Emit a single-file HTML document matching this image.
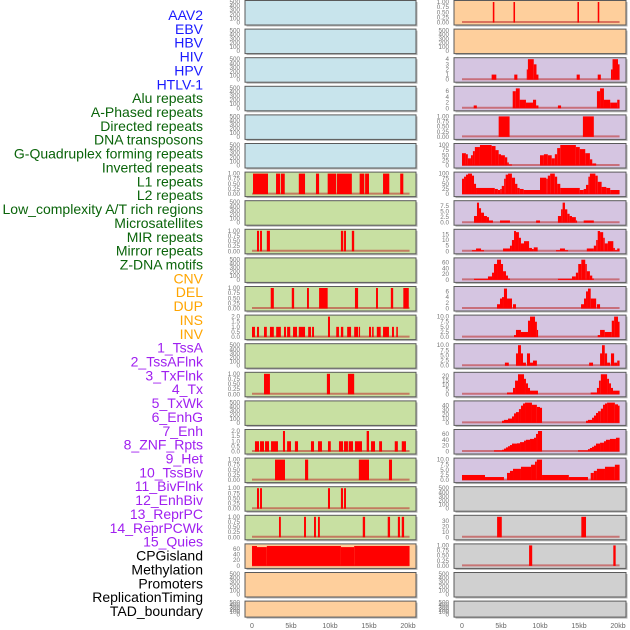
<!DOCTYPE html>
<html><head><meta charset="utf-8"><style>
html,body{margin:0;padding:0;background:#fff;}
svg{display:block;font-family:"Liberation Sans",sans-serif;}
</style></head><body>
<svg id="chart" width="630" height="630" viewBox="0 0 630 630" xmlns="http://www.w3.org/2000/svg"></svg>
<script>
// ---- data ----
const labelNames = ["AAV2","EBV","HBV","HIV","HPV","HTLV-1","Alu repeats","A-Phased repeats","Directed repeats","DNA transposons","G-Quadruplex forming repeats","Inverted repeats","L1 repeats","L2 repeats","Low_complexity A/T rich regions","Microsatellites","MIR repeats","Mirror repeats","Z-DNA motifs","CNV","DEL","DUP","INS","INV","1_TssA","2_TssAFlnk","3_TxFlnk","4_Tx","5_TxWk","6_EnhG","7_Enh","8_ZNF_Rpts","9_Het","10_TssBiv","11_BivFlnk","12_EnhBiv","13_ReprPC","14_ReprPCWk","15_Quies","CPGisland","Methylation","Promoters","ReplicationTiming","TAD_boundary"];
const labelColors = ["#1a1aff","#1a1aff","#1a1aff","#1a1aff","#1a1aff","#1a1aff","#0a640a","#0a640a","#0a640a","#0a640a","#0a640a","#0a640a","#0a640a","#0a640a","#0a640a","#0a640a","#0a640a","#0a640a","#0a640a","#ffa500","#ffa500","#ffa500","#ffa500","#ffa500","#a020f0","#a020f0","#a020f0","#a020f0","#a020f0","#a020f0","#a020f0","#a020f0","#a020f0","#a020f0","#a020f0","#a020f0","#a020f0","#a020f0","#a020f0","#000","#000","#000","#000","#000"];
const xTickKb = [0,5,10,15,20];
const xTickLabels = ["0","5kb","10kb","15kb","20kb"];
const emptyTicks = [0,100,200,300,400,500];
const unitTicks = [0,0.25,0.5,0.75,1];

const segL_Alu = [[0.13,2.05,1],[3.08,3.6,1],[3.7,4.2,1],[6.0,6.8,1],[8.2,8.6,1],[9.7,10.8,1],[10.9,12.8,1],[13.8,14.4,1],[14.5,15.0,1],[16.8,17.6,1],[19.0,19.4,1]];
const segL_Directed = [[0.64,0.9,1],[1.03,1.28,1],[1.9,2.3,1],[11.4,11.7,1],[11.8,12.05,1],[12.8,13.1,1]];
const segL_GQuad = [[2.4,2.8,1],[5.1,5.4,1],[7.05,7.3,1],[8.6,9.7,1],[13.2,13.6,1],[15.9,16.15,1],[17.8,18.1,1],[19.4,20.1,1]];
const segL_Inverted = [[0,0.38,1],[0.64,0.9,1],[1.54,1.9,1],[2.3,2.8,1],[3.1,3.7,1],[4.1,4.36,1],[4.5,4.9,1],[5.26,5.77,1],[6.0,6.8,1],[7.2,7.56,1],[7.7,7.95,1],[9.74,10.0,2],[10.8,11.15,1],[11.4,11.7,1],[12.2,12.7,1],[13.1,13.6,1],[13.7,13.85,1],[15.0,15.26,1],[15.4,15.6,1],[16.0,16.5,1],[16.8,17.56,1],[17.95,18.2,1],[18.5,18.7,1]];
const segL_L2 = [[1.54,2.3,1],[9.6,10.0,1],[12.3,13.1,1]];
const segL_Micro = [[0.38,0.9,1],[1.03,1.54,1],[1.67,2.18,1],[2.44,3.33,1],[3.97,4.23,2],[4.5,5.0,1],[5.5,5.9,1],[7.56,7.95,1],[8.46,8.97,1],[9.74,10.1,1],[11.15,11.67,1],[11.8,12.3,1],[12.4,12.95,1],[13.2,14.1,1],[14.7,15.0,2],[15.26,15.77,1],[16.3,16.67,1],[18.3,18.7,1],[19.2,19.74,1]];
const segL_MIR = [[2.95,4.23,1],[6.8,7.2,1],[13.7,15.0,1],[17.56,17.95,1]];
const segL_Mirror = [[0.64,0.9,1],[1.03,1.28,1],[9.74,10.0,1],[11.4,11.67,1],[11.8,12.05,1]];
const segL_ZDNA = [[3.46,3.7,1],[6.67,6.92,1],[7.95,8.2,1],[8.46,8.7,1],[14.2,14.5,1],[17.4,17.7,1],[18.7,18.97,1],[19.2,19.5,1]];
const segL_CNV = [[0,0.64,70],[0.64,1.9,66],[1.9,11.4,70],[11.4,13.1,66],[13.1,20.2,70]];

const segR_INS = [[3.95,4.15,1],[6.6,6.8,1],[14.8,15.0,1],[17.4,17.6,1]];
const segR_TssA = [[3.8,4.4,1],[6.7,7.1,1],[8.3,8.45,2],[8.45,9.2,4],[9.2,9.55,3],[9.55,9.8,1],[14.7,15.1,1],[17.4,17.8,1],[19.1,19.3,2],[19.3,20.0,4],[20.0,20.2,3]];
const segR_TssAFlnk = [[1.5,1.9,1],[6.5,6.9,6],[6.9,7.4,7],[7.4,8.2,3],[8.2,9.1,2],[9.1,9.5,3],[9.5,9.8,1],[12.3,12.7,1],[17.3,17.7,6],[17.7,18.2,7],[18.2,19.0,3],[19.0,19.9,2],[19.9,20.2,3]];
const segR_TxFlnk = [[4.7,6.1,1],[15.5,16.9,1]];
const segR_Tx = [[0,0.5,60],[0.5,0.75,55],[0.75,1.15,35],[1.15,1.4,50],[1.4,1.65,70],[1.65,2.3,90],[2.3,3.8,100],[3.8,4.3,95],[4.3,4.7,75],[4.7,5.0,55],[5.0,5.5,50],[5.5,5.8,40],[5.8,6.0,15],[6.0,6.4,5],[10.0,10.5,50],[10.5,11.0,55],[11.0,11.5,50],[11.5,11.9,35],[11.9,12.2,55],[12.2,12.6,85],[12.6,14.6,100],[14.6,15.1,90],[15.1,15.8,80],[15.8,16.4,60],[16.4,16.7,30],[16.7,17.2,10]];
const segR_TxWk = [[0,0.26,75],[0.26,0.51,85],[0.51,0.77,95],[0.77,1.28,100],[1.28,1.54,90],[1.54,1.8,50],[1.8,4.2,30],[4.2,4.6,25],[4.6,4.9,20],[4.9,5.1,25],[5.1,5.4,40],[5.4,5.6,75],[5.6,5.9,95],[5.9,6.4,100],[6.4,6.8,80],[6.8,7.1,50],[7.1,7.4,30],[7.4,7.9,25],[7.9,10.0,20],[10.0,10.8,80],[10.8,11.0,75],[11.0,11.3,90],[11.3,11.9,100],[11.9,12.2,85],[12.2,12.6,50],[12.6,15.1,30],[15.1,15.6,20],[15.6,15.9,25],[15.9,16.2,45],[16.2,16.4,85],[16.4,17.1,100],[17.1,17.4,90],[17.4,17.9,60],[17.9,18.5,35],[18.5,19.0,30],[19.0,20.2,20]];
const segR_EnhG = [[1.54,1.92,3],[1.92,2.18,9],[2.18,2.44,6.5],[2.44,2.82,4.5],[2.82,3.2,3],[3.2,3.46,2.5],[3.46,3.97,1],[4.87,6.15,1],[9.5,10.0,1],[12.3,12.7,3],[12.7,12.9,6],[12.9,13.2,9],[13.2,13.5,6],[13.5,13.8,4],[13.8,14.1,3],[14.1,14.6,2.5],[14.6,14.7,1],[15.6,16.9,1]];
const segR_Enh = [[1.28,1.8,1],[1.8,2.44,2.5],[2.44,2.82,1],[5.26,6.15,2.5],[6.15,6.4,5],[6.4,6.67,10],[6.67,6.92,18],[6.92,7.3,17],[7.3,7.56,12],[7.56,7.95,7],[7.95,8.6,9],[8.6,8.97,3],[8.97,9.2,2],[9.2,9.7,3.5],[12.05,12.56,1],[12.56,13.2,2.5],[13.2,13.6,1],[16.0,16.9,2.5],[16.9,17.2,5],[17.2,17.4,10],[17.4,17.7,18],[17.7,18.1,17],[18.1,18.3,12],[18.3,18.7,7],[18.7,19.4,9],[19.4,19.6,3],[19.6,19.9,1],[19.9,20.2,2.5]];
const segR_ZNF = [[1.54,3.33,4],[3.33,3.85,12],[3.85,4.1,25],[4.1,4.49,55],[4.49,5.0,70],[5.0,5.26,55],[5.26,5.64,30],[5.64,5.9,15],[5.9,6.15,5],[12.3,14.1,4],[14.1,14.6,12],[14.6,14.9,25],[14.9,15.3,55],[15.3,15.8,70],[15.8,16.0,55],[16.0,16.4,30],[16.4,16.7,15],[16.7,16.9,5]];
const segR_Het = [[4.49,4.87,1.5],[4.87,5.13,3.5],[5.13,5.38,4],[5.38,5.77,7],[5.77,6.41,3.5],[6.54,6.92,1.5],[15.26,15.64,1.5],[15.64,15.9,3.5],[15.9,16.15,6],[16.15,16.5,7],[16.5,17.2,3.5],[17.3,17.7,1.5]];
const segR_TssBiv = [[6.67,6.92,1],[6.92,7.56,3.5],[7.56,8.46,2.5],[8.46,8.72,8],[8.72,9.36,10],[9.36,9.6,7.5],[9.6,9.74,3.5],[17.4,17.7,1],[17.7,18.3,3.5],[18.3,19.2,2.5],[19.2,19.5,8],[19.5,20.0,10],[20.0,20.2,7.5]];
const segR_BivFlnk = [[5.5,6.0,1.5],[6.92,7.18,6],[7.18,7.56,10],[7.56,7.82,6],[7.82,8.2,1.5],[8.33,8.72,6],[8.72,9.1,1.5],[9.1,9.6,2.5],[16.3,16.8,1.5],[17.7,17.95,6],[17.95,18.3,10],[18.3,18.6,6],[18.6,19.0,1.5],[19.1,19.5,6],[19.5,19.9,1.5],[19.9,20.2,2.5]];
const segR_EnhBiv = [[5.77,6.54,2],[6.54,6.8,7],[6.8,7.18,15],[7.18,7.95,22],[7.95,8.2,17],[8.2,8.46,12],[8.46,8.72,7],[8.72,9.74,4],[16.5,17.3,2],[17.3,17.56,7],[17.56,17.8,15],[17.8,18.6,22],[18.6,18.85,17],[18.85,19.1,12],[19.1,19.36,7],[19.36,20.2,4]];
const segR_ReprPC = [[5.13,5.38,5],[5.38,5.9,7],[5.9,6.41,10],[6.41,6.67,15],[6.67,6.92,22],[6.92,7.3,25],[7.3,7.56,32],[7.56,7.82,40],[7.82,8.08,45],[8.08,8.97,47],[8.97,9.6,42],[9.6,10.0,37],[10.0,10.26,35],[15.9,16.15,5],[16.15,16.67,7],[16.67,16.92,12],[16.92,17.18,17],[17.18,17.44,23],[17.44,17.8,27],[17.8,18.08,33],[18.08,18.33,42],[18.33,18.6,45],[18.6,19.6,47],[19.6,20.0,43],[20.0,20.2,40]];
const segR_ReprPCWk = [[4.1,5.13,4],[5.13,5.38,6],[5.38,5.64,10],[5.64,5.9,14],[5.9,6.15,18],[6.15,6.41,22],[6.41,7.05,27],[7.05,7.44,28],[7.44,7.95,32],[7.95,8.2,37],[8.2,8.72,40],[8.72,9.23,43],[9.23,9.49,47],[9.49,9.74,60],[9.74,10.26,70],[14.87,16.15,4],[16.15,16.4,8],[16.4,16.67,12],[16.67,16.92,16],[16.92,17.18,20],[17.18,17.7,27],[17.7,18.2,30],[18.2,18.46,35],[18.46,18.97,40],[18.97,19.74,43],[19.74,20.2,47]];
const segR_Quies = [[0,2.95,2.5],[2.95,5.38,1.5],[5.77,6.15,3.5],[6.15,6.54,4.5],[6.54,7.56,5.5],[7.56,8.85,6.5],[8.85,9.36,7.5],[9.36,9.6,9],[9.6,10.26,10],[10.26,13.7,2.5],[13.7,16.15,1.5],[16.5,16.9,3.5],[16.9,17.3,4.5],[17.3,18.33,5.5],[18.33,19.6,6.5],[19.6,20.2,7.5]];
const segR_Methyl = [[4.5,5.1,38],[15.3,15.9,38]];
const segR_Prom = [[8.6,9.0,1],[19.4,19.7,1]];

// panel definitions: column, row, background, ylim max, ticks, decimals, segments
const bgBlue="#c8e4ec", bgGreen="#c8e0a2", bgOrange="#fecf9c", bgPurple="#d5c5e1", bgGray="#d0d0d0";
const panels = [
 {n:"aav2",c:0,r:0,bg:bgBlue},{n:"ebv",c:0,r:1,bg:bgBlue},{n:"hbv",c:0,r:2,bg:bgBlue},{n:"hiv",c:0,r:3,bg:bgBlue},{n:"hpv",c:0,r:4,bg:bgBlue},{n:"htlv-1",c:0,r:5,bg:bgBlue},
 {n:"alu",c:0,r:6,bg:bgGreen,ymax:1,ticks:unitTicks,d:2,s:segL_Alu},
 {n:"a-phased",c:0,r:7,bg:bgGreen},
 {n:"directed",c:0,r:8,bg:bgGreen,ymax:1,ticks:unitTicks,d:2,s:segL_Directed},
 {n:"dna-transposons",c:0,r:9,bg:bgGreen},
 {n:"g-quadruplex",c:0,r:10,bg:bgGreen,ymax:1,ticks:unitTicks,d:2,s:segL_GQuad},
 {n:"inverted",c:0,r:11,bg:bgGreen,ymax:2,ticks:[0,0.5,1,1.5,2],d:1,s:segL_Inverted},
 {n:"l1",c:0,r:12,bg:bgGreen},
 {n:"l2",c:0,r:13,bg:bgGreen,ymax:1,ticks:unitTicks,d:2,s:segL_L2},
 {n:"low-complexity",c:0,r:14,bg:bgGreen},
 {n:"microsatellites",c:0,r:15,bg:bgGreen,ymax:2,ticks:[0,0.5,1,1.5,2],d:1,s:segL_Micro},
 {n:"mir",c:0,r:16,bg:bgGreen,ymax:1,ticks:unitTicks,d:2,s:segL_MIR},
 {n:"mirror",c:0,r:17,bg:bgGreen,ymax:1,ticks:unitTicks,d:2,s:segL_Mirror},
 {n:"z-dna",c:0,r:18,bg:bgGreen,ymax:1,ticks:unitTicks,d:2,s:segL_ZDNA},
 {n:"cnv",c:0,r:19,bg:bgOrange,ymax:72,ticks:[0,20,40,60],d:0,s:segL_CNV},
 {n:"del",c:0,r:20,bg:bgOrange},{n:"dup",c:0,r:21,bg:bgOrange},
 {n:"ins",c:1,r:0,bg:bgOrange,ymax:1,ticks:unitTicks,d:2,s:segR_INS},
 {n:"inv",c:1,r:1,bg:bgOrange},
 {n:"tssa",c:1,r:2,bg:bgPurple,ymax:4,ticks:[0,1,2,3,4],d:0,s:segR_TssA},
 {n:"tssaflnk",c:1,r:3,bg:bgPurple,ymax:7.2,ticks:[0,2,4,6],d:0,s:segR_TssAFlnk},
 {n:"txflnk",c:1,r:4,bg:bgPurple,ymax:1,ticks:unitTicks,d:2,s:segR_TxFlnk},
 {n:"tx",c:1,r:5,bg:bgPurple,ymax:100,ticks:[0,25,50,75,100],d:0,s:segR_Tx},
 {n:"txwk",c:1,r:6,bg:bgPurple,ymax:100,ticks:[0,25,50,75,100],d:0,s:segR_TxWk},
 {n:"enhg",c:1,r:7,bg:bgPurple,ymax:9.2,ticks:[0,2.5,5,7.5],d:1,s:segR_EnhG},
 {n:"enh",c:1,r:8,bg:bgPurple,ymax:18.2,ticks:[0,5,10,15],d:0,s:segR_Enh},
 {n:"znf-rpts",c:1,r:9,bg:bgPurple,ymax:71,ticks:[0,20,40,60],d:0,s:segR_ZNF},
 {n:"het",c:1,r:10,bg:bgPurple,ymax:7.2,ticks:[0,2,4,6],d:0,s:segR_Het},
 {n:"tssbiv",c:1,r:11,bg:bgPurple,ymax:10,ticks:[0,2.5,5,7.5,10],d:1,s:segR_TssBiv},
 {n:"bivflnk",c:1,r:12,bg:bgPurple,ymax:10,ticks:[0,2.5,5,7.5,10],d:1,s:segR_BivFlnk},
 {n:"enhbiv",c:1,r:13,bg:bgPurple,ymax:22.5,ticks:[0,5,10,15,20],d:0,s:segR_EnhBiv},
 {n:"reprpc",c:1,r:14,bg:bgPurple,ymax:47.5,ticks:[0,10,20,30,40],d:0,s:segR_ReprPC},
 {n:"reprpcwk",c:1,r:15,bg:bgPurple,ymax:70,ticks:[0,20,40,60],d:0,s:segR_ReprPCWk},
 {n:"quies",c:1,r:16,bg:bgPurple,ymax:10,ticks:[0,2.5,5,7.5,10],d:1,s:segR_Quies},
 {n:"cpgisland",c:1,r:17,bg:bgGray},
 {n:"methylation",c:1,r:18,bg:bgGray,ymax:38,ticks:[0,10,20,30],d:0,s:segR_Methyl},
 {n:"promoters",c:1,r:19,bg:bgGray,ymax:1,ticks:unitTicks,d:2,s:segR_Prom},
 {n:"replicationtiming",c:1,r:20,bg:bgGray},
 {n:"tad-boundary",c:1,r:21,bg:bgGray}
];

// ---- drawing ----
const NS="http://www.w3.org/2000/svg";
const svg=document.getElementById('chart');
const cols=[{x0:245,x1:416,k0:252,k20:408,lab:240},{x0:454,x1:626,k0:462,k20:618,lab:449}];
function xScale(c,kb){return cols[c].k0+(cols[c].k20-cols[c].k0)*kb/20;}
function rowTop(r){return r*28.6+0.5;}
function rowH(r){return r===21?16:24.5;}
function yScale(r,ymax,v){const t=rowTop(r)+1.5,b=rowTop(r)+rowH(r)-2.5;return b-(b-t)*v/ymax;}
function mk(tag,attrs,parent){const e=document.createElementNS(NS,tag);for(const k in attrs)e.setAttribute(k,attrs[k]);(parent||svg).appendChild(e);return e;}

labelNames.forEach((name,i)=>{
  const t=mk('text',{x:203,y:20+i*13.86,'text-anchor':'end','font-size':'14',fill:labelColors[i]});
  
  
  t.textContent=name;
});

panels.forEach(p=>{
  const g=mk('g',{});
  
  
  const C=cols[p.c], top=rowTop(p.r), h=rowH(p.r);
  mk('rect',{x:C.x0+1.5,y:top+1.5,width:C.x1-C.x0,height:h,fill:'#b5b5b5'},g);
  mk('rect',{x:C.x0,y:top,width:C.x1-C.x0,height:h,fill:p.bg,stroke:'#5a5a5a','stroke-width':1},g);
  const ymax=p.ymax||500, ticks=p.ticks||emptyTicks, dec=p.d||0;
  ticks.forEach(tv=>{
    const t=mk('text',{x:C.lab,y:yScale(p.r,ymax,tv)+2,'text-anchor':'end','font-size':'6.3',fill:'#777'},g);
    
    
    t.textContent=tv.toFixed(dec);
  });
  if(p.s){
    const y0=yScale(p.r,ymax,0);
    const bl=mk('line',{x1:xScale(p.c,0),x2:xScale(p.c,20.2),y1:y0-0.5,y2:y0-0.5,stroke:'rgba(190,40,40,0.55)','stroke-width':2},g);
    
    
    p.s.forEach(sg=>{
      const x1=xScale(p.c,sg[0]), x2=xScale(p.c,sg[1]);
      const yv=yScale(p.r,ymax,sg[2]);
      const rc=mk('rect',{x:x1,y:yv,width:Math.max(1.2,x2-x1),height:y0-yv,fill:'#ff0000'},g);
      
      
    });
  }
});

[0,1].forEach(c=>{
  xTickKb.forEach((kb,i)=>{
    const t=mk('text',{x:xScale(c,kb),y:628,'text-anchor':'middle','font-size':'7',fill:'#666'});
    
    
    t.textContent=xTickLabels[i];
  });
});
</script>
</body></html>
